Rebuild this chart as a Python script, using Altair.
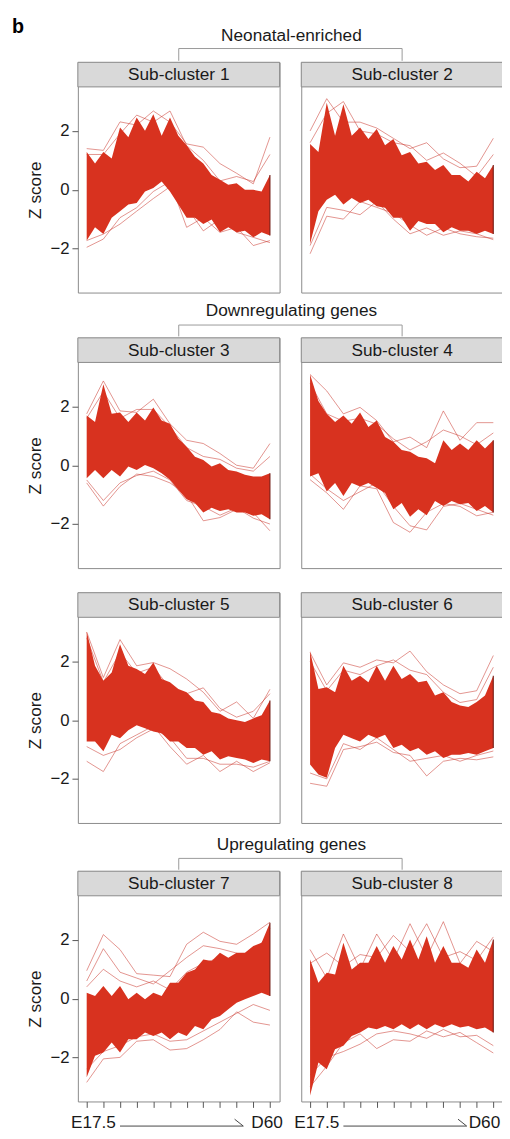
import altair as alt
import pandas as pd

FONT = "Liberation Sans"
RED = "#d8321f"
LINE_RED = "#cb3b32"
EDGE = "#6e1610"
STRIP_FILL = "#d9d9d9"
BORDER = "#8a8a8a"
TEXT = "#1a1a1a"

# time points (12 samples, E17.5 ... D60)
TP = [1, 2, 3, 4, 5, 6, 7, 8, 9, 10, 11, 12]
# time points plus half-way positions used for the dense core envelope
XF = [1, 1.5, 2, 2.5, 3, 3.5, 4, 4.5, 5, 5.5, 6, 6.5, 7, 7.5, 8, 8.5, 9, 9.5, 10, 10.5, 11, 11.5, 12]

GROUPS = ["Neonatal-enriched", "Downregulating genes", "Upregulating genes"]
TITLES = ["Sub-cluster 1", "Sub-cluster 2", "Sub-cluster 3", "Sub-cluster 4",
          "Sub-cluster 5", "Sub-cluster 6", "Sub-cluster 7", "Sub-cluster 8"]
X_LABELS = ["E17.5", "D60"]
X_LABEL_POS = [1, 12]
ARROW_X = [3.0, 10.4]
ARROW_BARB_X = [9.88, 10.4]
Y_TICKS = [-2, 0, 2]

# dense core: upper / lower edge (Z score)
HI1 = [1.28, 0.89, 1.28, 1.06, 2.12, 1.79, 2.46, 2.01, 2.57, 1.84, 2.46, 1.84, 1.51, 1.12, 0.89, 0.50, 0.34, 0.17, 0.22, 0.00, 0.00, -0.06, 0.50]
LO1 = [-1.73, -1.28, -1.51, -0.95, -0.73, -0.50, -0.45, -0.06, 0.06, 0.28, -0.06, -0.50, -0.95, -0.95, -1.17, -1.01, -1.45, -1.28, -1.45, -1.40, -1.62, -1.45, -1.56]
HI2 = [1.56, 1.28, 2.96, 1.84, 2.91, 1.84, 2.12, 1.73, 2.07, 1.51, 1.73, 1.17, 1.28, 0.89, 0.95, 0.67, 0.84, 0.50, 0.50, 0.28, 0.61, 0.39, 0.84]
LO2 = [-1.84, -0.73, -0.34, -0.17, -0.50, -0.28, -0.45, -0.34, -0.56, -0.61, -0.95, -0.95, -1.40, -1.06, -1.17, -1.17, -1.45, -1.28, -1.40, -1.40, -1.51, -1.40, -1.51]
HI3 = [1.69, 1.47, 2.76, 1.75, 1.80, 1.47, 1.80, 1.52, 1.97, 1.52, 1.41, 0.91, 0.63, 0.29, 0.18, -0.04, 0.07, -0.16, -0.21, -0.32, -0.38, -0.38, -0.27]
LO3 = [-0.44, -0.16, -0.44, -0.16, -0.38, -0.04, -0.16, 0.01, -0.10, -0.27, -0.49, -0.83, -1.16, -1.28, -1.61, -1.45, -1.56, -1.50, -1.61, -1.61, -1.72, -1.67, -1.84]
HI4 = [3.09, 2.19, 1.75, 1.47, 1.69, 1.41, 1.80, 1.30, 1.52, 0.96, 0.80, 0.52, 0.46, 0.29, 0.24, 0.07, 0.85, 0.52, 0.74, 0.52, 0.85, 0.57, 0.85]
LO4 = [-0.38, -0.27, -0.89, -0.60, -1.05, -0.60, -0.72, -0.60, -0.77, -0.94, -1.50, -1.28, -1.75, -1.50, -1.70, -1.22, -1.39, -1.22, -1.33, -1.28, -1.56, -1.39, -1.61]
HI5 = [3.02, 1.85, 1.34, 1.62, 2.58, 1.85, 1.74, 1.57, 1.96, 1.40, 1.29, 1.06, 0.95, 0.67, 0.62, 0.28, 0.22, 0.06, 0.00, -0.06, 0.06, 0.17, 0.67]
LO5 = [-0.73, -0.73, -1.06, -0.50, -0.62, -0.34, -0.17, -0.28, -0.39, -0.45, -0.73, -0.73, -0.95, -0.95, -1.18, -1.06, -1.34, -1.23, -1.29, -1.34, -1.46, -1.34, -1.40]
HI6 = [2.35, 1.06, 1.12, 0.95, 1.85, 1.34, 1.51, 1.29, 1.85, 1.34, 1.85, 1.40, 1.57, 1.29, 1.34, 0.84, 0.95, 0.62, 0.50, 0.45, 0.62, 0.84, 1.51]
LO6 = [-1.51, -1.85, -1.96, -0.95, -0.50, -0.62, -0.73, -0.50, -0.62, -0.50, -0.95, -0.84, -1.06, -0.95, -1.18, -1.06, -1.29, -1.18, -1.18, -1.12, -1.18, -1.06, -0.95]
HI7 = [0.20, 0.09, 0.43, 0.09, 0.43, -0.02, 0.20, -0.02, 0.20, 0.09, 0.54, 0.54, 0.88, 0.99, 1.33, 1.28, 1.56, 1.39, 1.56, 1.56, 1.79, 1.90, 2.58]
LO7 = [-2.68, -1.94, -1.83, -1.49, -1.83, -1.38, -1.38, -1.15, -1.27, -1.15, -1.38, -1.15, -1.27, -0.93, -1.04, -0.70, -0.59, -0.36, -0.14, -0.02, 0.09, 0.20, 0.09]
HI8 = [1.33, 0.54, 0.88, 0.82, 1.90, 0.99, 1.22, 1.22, 1.79, 1.22, 1.79, 1.33, 2.01, 1.33, 2.12, 1.22, 1.79, 1.22, 1.22, 1.05, 1.67, 1.22, 2.01]
LO8 = [-3.30, -2.17, -2.40, -1.72, -1.60, -1.27, -1.15, -0.98, -1.04, -0.93, -1.04, -0.87, -1.04, -0.87, -1.04, -0.87, -0.98, -0.87, -0.98, -0.93, -1.04, -0.98, -1.15]

# individual outlying gene trajectories (12 time points each)
OUT1 = [[1.40, 1.34, 2.31, 2.20, 2.68, 2.30, 1.56, 1.45, 0.89, 0.56, 0.20, 1.79],
        [1.20, 1.20, 1.90, 2.54, 2.30, 2.68, 1.50, 1.00, 0.30, 0.45, 0.28, 1.20],
        [-1.96, -1.68, -0.95, -0.61, -0.06, 0.28, -1.28, -0.95, -1.45, -1.28, -1.90, -1.73],
        [-1.73, -1.51, -1.17, -0.73, -0.30, 0.10, -0.60, -1.40, -1.00, -1.45, -1.62, -1.80]]
OUT2 = [[2.00, 3.10, 2.30, 2.30, 2.10, 1.75, 1.40, 1.60, 1.05, 0.75, 0.80, 1.75],
        [1.60, 2.60, 3.00, 2.00, 1.90, 1.60, 1.50, 1.00, 1.25, 0.90, 0.45, 1.20],
        [-2.18, -0.90, -1.00, -0.40, -0.60, -0.80, -1.20, -1.55, -1.30, -1.50, -1.60, -1.65],
        [-1.90, -0.60, -0.70, -0.85, -0.40, -1.00, -1.50, -1.30, -1.55, -1.40, -1.50, -1.70]]
OUT3 = [[1.75, 2.87, 1.85, 1.80, 2.25, 1.41, 0.85, 0.74, 0.40, 0.00, -0.10, 0.74],
        [1.60, 2.50, 1.60, 1.90, 1.90, 1.30, 0.60, 0.30, 0.20, -0.10, -0.20, 0.30],
        [-0.60, -1.39, -0.72, -0.30, -0.38, -0.60, -1.00, -1.89, -1.78, -1.50, -1.61, -2.23],
        [-0.50, -1.20, -0.60, -0.35, -0.20, -0.50, -1.20, -1.40, -1.70, -1.45, -1.80, -2.00]]
OUT4 = [[3.09, 2.53, 1.75, 1.97, 1.52, 0.80, 0.96, 0.60, 1.85, 0.85, 1.45, 1.45],
        [2.80, 1.75, 1.50, 1.60, 1.40, 0.90, 0.52, 0.80, 1.20, 1.00, 0.70, 1.10],
        [-0.49, -0.94, -1.50, -0.70, -0.80, -1.95, -2.28, -1.60, -1.30, -1.40, -1.72, -1.60],
        [-0.30, -0.80, -1.20, -0.90, -0.60, -1.40, -2.06, -2.20, -1.40, -1.30, -1.50, -1.70]]
OUT5 = [[3.00, 1.45, 2.74, 1.85, 1.96, 1.75, 1.40, 0.95, 0.30, 0.62, 0.06, 1.05],
        [2.80, 1.30, 2.30, 1.60, 1.80, 1.10, 0.90, 1.10, 0.40, 0.10, 0.30, 0.90],
        [-1.40, -1.75, -0.80, -0.50, -0.20, -0.90, -1.50, -1.20, -1.75, -1.40, -1.75, -1.45],
        [-0.90, -1.20, -1.00, -0.60, -0.30, -0.60, -1.30, -1.30, -1.50, -1.50, -1.60, -1.40]]
OUT6 = [[2.30, 1.20, 1.95, 1.80, 2.05, 1.95, 2.35, 1.65, 1.20, 0.90, 1.00, 2.20],
        [2.00, 1.00, 1.70, 1.55, 1.85, 2.05, 1.70, 1.55, 0.95, 0.60, 0.70, 1.80],
        [-2.15, -2.25, -1.00, -0.90, -0.75, -1.10, -1.20, -1.90, -1.40, -1.30, -1.35, -1.25],
        [-1.80, -2.00, -0.80, -1.00, -0.60, -1.00, -1.40, -1.30, -1.20, -1.40, -1.20, -1.05]]
OUT7 = [[0.95, 2.18, 1.67, 0.85, 0.80, 0.75, 1.85, 2.26, 1.95, 1.85, 2.20, 2.60],
        [0.60, 1.70, 0.90, 0.70, 0.50, 0.95, 1.40, 1.80, 1.70, 1.55, 1.30, 2.40],
        [0.40, 1.00, 0.60, 0.40, 0.60, 0.30, 0.90, 1.20, 1.40, 1.20, 1.60, 2.20],
        [-2.85, -2.05, -2.00, -1.45, -1.40, -1.75, -1.70, -1.40, -1.05, -0.45, -0.80, -0.90],
        [-2.40, -1.80, -1.60, -1.30, -1.20, -1.45, -1.40, -1.10, -0.80, -0.50, -0.20, -0.40]]
OUT8 = [[1.67, 0.70, 2.20, 1.00, 2.20, 1.30, 2.55, 1.40, 2.62, 1.20, 1.95, 1.60],
        [1.20, 1.55, 1.10, 1.50, 1.40, 2.15, 1.60, 2.55, 1.40, 1.60, 1.30, 2.10],
        [-3.00, -2.30, -1.50, -1.20, -1.70, -1.40, -1.45, -1.10, -1.30, -1.15, -1.50, -1.85],
        [-2.60, -2.00, -1.80, -1.55, -1.20, -1.10, -1.20, -1.35, -1.05, -1.30, -1.25, -1.60]]

HIS = [HI1, HI2, HI3, HI4, HI5, HI6, HI7, HI8]
LOS = [LO1, LO2, LO3, LO4, LO5, LO6, LO7, LO8]
OUTS = [OUT1, OUT2, OUT3, OUT4, OUT5, OUT6, OUT7, OUT8]

PW = 205          # panel width
PLOT_H = 209      # plot height below strip
STRIP_H = 25
PH = PLOT_H + STRIP_H
GAP = 22
YMIN, YTOP = -3.5, 3.5
YMAX = YTOP + (YTOP - YMIN) * STRIP_H / PLOT_H

dummy = alt.Data(values=[{"a": 1}])


def panel(i, left, bottom):
    xs = alt.Scale(domain=[0.47, 12.58], nice=False, zero=False)
    ys = alt.Scale(domain=[YMIN, YMAX], nice=False, zero=False)
    xax = (alt.Axis(values=TP, labels=False, tickSize=6, tickColor="#555", tickWidth=1,
                    domain=False, grid=False, title=None) if bottom else None)
    yax = (alt.Axis(values=Y_TICKS, title="Z score", titleFont=FONT, titleFontSize=17.5,
                    titleFontWeight="normal", titleColor=TEXT, titlePadding=6,
                    titleY=STRIP_H + PLOT_H / 2, labelFont=FONT, labelFontSize=17,
                    labelColor=TEXT, labelPadding=3, tickSize=6, tickColor="#555",
                    domain=False, grid=False) if left else None)

    def X(f):
        return alt.X(f, type="quantitative", scale=xs, axis=xax)

    def Y(f):
        return alt.Y(f, type="quantitative", scale=ys, axis=yax)

    core = pd.DataFrame({"x": XF, "hi": HIS[i], "lo": LOS[i]})
    rows = []
    for j, ln in enumerate(OUTS[i]):
        for t, v in zip(TP, ln):
            rows.append({"x": t, "z": v, "g": j})
    outs = pd.DataFrame(rows)
    edge = pd.DataFrame({"x": [TP[-1]], "lo": [LOS[i][-1]], "hi": [HIS[i][-1]]})

    lines = alt.Chart(outs).mark_line(color=LINE_RED, opacity=0.55, strokeWidth=1).encode(
        x=X("x"), y=Y("z"), detail="g:N")
    area = alt.Chart(core).mark_area(color=RED, opacity=1).encode(
        x=X("x"), y=Y("lo"), y2="hi")
    edge_rule = alt.Chart(edge).mark_rule(color=EDGE, strokeWidth=1.3, opacity=0.8).encode(
        x=X("x"), y=Y("lo"), y2="hi")
    strip = alt.Chart(dummy).mark_rect(fill=STRIP_FILL, stroke=BORDER, strokeWidth=1).encode(
        x=alt.value(0), x2=alt.value(PW), y=alt.value(0), y2=alt.value(STRIP_H))
    label = alt.Chart(dummy).mark_text(text=TITLES[i], font=FONT, fontSize=17.5, color=TEXT,
                                       baseline="middle", align="center").encode(
        x=alt.value(PW / 2), y=alt.value(STRIP_H / 2 + 0.5))
    layers = [lines, area, edge_rule, strip, label]
    if bottom:
        lab = pd.DataFrame({"x": X_LABEL_POS, "label": X_LABELS})
        t1 = alt.Chart(lab.iloc[[0]]).mark_text(font=FONT, fontSize=17.5, color=TEXT,
                                                 align="left", baseline="middle", dx=-16).encode(
            x=X("x"), y=alt.value(PH + 22), text="label:N")
        t2 = alt.Chart(lab.iloc[[1]]).mark_text(font=FONT, fontSize=17.5, color=TEXT,
                                                 align="center", baseline="middle",
                                                 dx=-3 if left else -9).encode(
            x=X("x"), y=alt.value(PH + 22), text="label:N")
        arr = pd.DataFrame({"x0": [ARROW_X[0]], "x1": [ARROW_X[1]]})
        barb = pd.DataFrame({"x0": [ARROW_BARB_X[0]], "x1": [ARROW_BARB_X[1]]})
        a1 = alt.Chart(arr).mark_rule(color="#444", strokeWidth=1).encode(
            x=X("x0"), x2="x1", y=alt.value(PH + 25))
        a2 = alt.Chart(barb).mark_rule(color="#444", strokeWidth=1).encode(
            x=X("x0"), x2="x1", y=alt.value(PH + 18), y2=alt.value(PH + 25))
        layers += [t1, t2, a1, a2]
    return alt.layer(*layers).properties(
        width=PW, height=PH,
        view=alt.ViewBackground(stroke=BORDER, strokeWidth=1, fill="white"))


def header(title, h, ty, by, with_b=False):
    W = 2 * PW + GAP
    c1, c2 = PW / 2, PW + GAP + PW / 2
    layers = []
    if title:
        layers.append(alt.Chart(dummy).mark_text(text=title, font=FONT, fontSize=17.5, color=TEXT,
                                                 align="center", baseline="middle").encode(
            x=alt.value(W / 2 + 1), y=alt.value(ty)))
        layers.append(alt.Chart(dummy).mark_rule(color="#999", strokeWidth=1).encode(
            x=alt.value(c1), x2=alt.value(c2), y=alt.value(by)))
        layers.append(alt.Chart(dummy).mark_rule(color="#999", strokeWidth=1).encode(
            x=alt.value(c1), y=alt.value(by), y2=alt.value(h - 0.5)))
        layers.append(alt.Chart(dummy).mark_rule(color="#999", strokeWidth=1).encode(
            x=alt.value(c2), y=alt.value(by), y2=alt.value(h - 0.5)))
    else:
        layers.append(alt.Chart(dummy).mark_text(text=" ", fontSize=1).encode(
            x=alt.value(0), y=alt.value(0)))
    if with_b:
        layers.append(alt.Chart(dummy).mark_text(text="b", font=FONT, fontSize=20, fontWeight="bold",
                                                 color="#000", align="left", baseline="top").encode(
            x=alt.value(-67), y=alt.value(0)))
    return alt.layer(*layers).properties(width=W, height=h)


def row(i, bottom=False):
    return alt.hconcat(panel(i, True, bottom), panel(i + 1, False, bottom),
                       spacing=GAP, bounds="flush")


chart = alt.vconcat(
    header(GROUPS[0], 45, 19, 32, with_b=True),
    row(0),
    header(GROUPS[1], 44, 18, 32),
    row(2),
    header(None, 22, 0, 0),
    row(4),
    header(GROUPS[2], 47, 21, 35),
    row(6, bottom=True),
    spacing=0,
).properties(
    padding={"left": 4, "top": 0, "right": -2, "bottom": 0},
    background="white",
).configure_view(stroke=None)

chart.save("out.html", embed_options={"renderer": "svg", "actions": False})
